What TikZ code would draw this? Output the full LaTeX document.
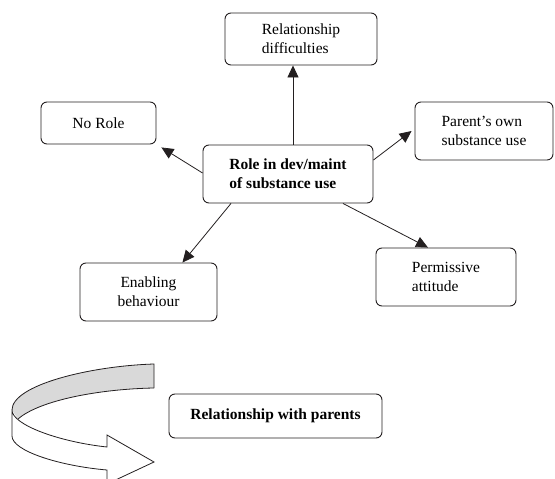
\documentclass[tikz,border=0pt]{standalone}
\usepackage{fontspec}
\setmainfont{Liberation Serif}
\usetikzlibrary{arrows.meta}
\definecolor{inkc}{HTML}{231F20}
\definecolor{ribbongray}{HTML}{D9D9D9}
\begin{document}
\begin{tikzpicture}[x=1pt,y=-1pt,
  box/.style={draw=inkc, line width=0.9pt, rounded corners=6pt, align=left, inner sep=0pt,
              text=black, font=\fontsize{15.5}{19}\selectfont},
  boxb/.style={box, font=\fontsize{15.5}{19}\selectfont\bfseries},
  arr/.style={draw=inkc, line width=0.8pt, -{Triangle[length=12pt,width=11pt]}},
  ribbonline/.style={draw=inkc, line width=0.8pt}]
\useasboundingbox (0,0) rectangle (555,479);
% boxes
\node[box, minimum width=152pt, minimum height=52pt] (reldiff) at (301,39) {Relationship\\difficulties};
\node[box, minimum width=115pt, minimum height=42pt] (norole) at (98.5,123) {No Role};
\node[box, minimum width=138pt, minimum height=58pt] (parent) at (484,131) {Parent’s own\\substance use};
\node[boxb, minimum width=170pt, minimum height=58pt] (central) at (288,174) {Role in dev/maint\\of substance use};
\node[box, align=center, minimum width=137pt, minimum height=58pt] (enabling) at (148.5,292) {Enabling\\behaviour};
\node[box, minimum width=140pt, minimum height=58pt] (permissive) at (446,277) {Permissive\\attitude};
\node[boxb, minimum width=213pt, minimum height=44pt] (relparents) at (275.5,416) {Relationship with parents};
% connectors
\coordinate (vx) at (293,0);
\draw[arr] (central.north -| vx) -- (reldiff.south -| vx);
\draw[arr] ([yshift=1pt]central.west) -- ([xshift=5pt,yshift=-3pt]norole.south east);
\draw[arr] ([yshift=14pt]central.east) -- ([xshift=-3pt]parent.west);
\draw[arr] ([xshift=-57pt]central.south) -- ([xshift=-35pt]enabling.north east);
\draw[arr] ([xshift=55pt]central.south) -- ([xshift=-18pt]permissive.north);
% ribbon arrow
\begin{scope}
\clip (0,0) rectangle (555,479);
\fill[ribbongray] (154,388) .. controls (100,389) and (40,400) .. (18,419) -- (12,410)
   .. controls (12,385) and (90,366) .. (154,364) -- cycle;
\draw[ribbonline] (154,388) .. controls (100,389) and (40,400) .. (18,419);
\draw[ribbonline, line join=miter] (12,410) .. controls (12,385) and (90,366) .. (154,364) -- (154,388);
\filldraw[fill=white, ribbonline, line join=miter] (12,410) -- (12,436)
   .. controls (12,451) and (60,466) .. (107,470) -- (107,484) -- (154,462) -- (107,435) -- (107,447)
   .. controls (60,442) and (12,425) .. (12,410) -- cycle;
\end{scope}
\end{tikzpicture}
\end{document}
